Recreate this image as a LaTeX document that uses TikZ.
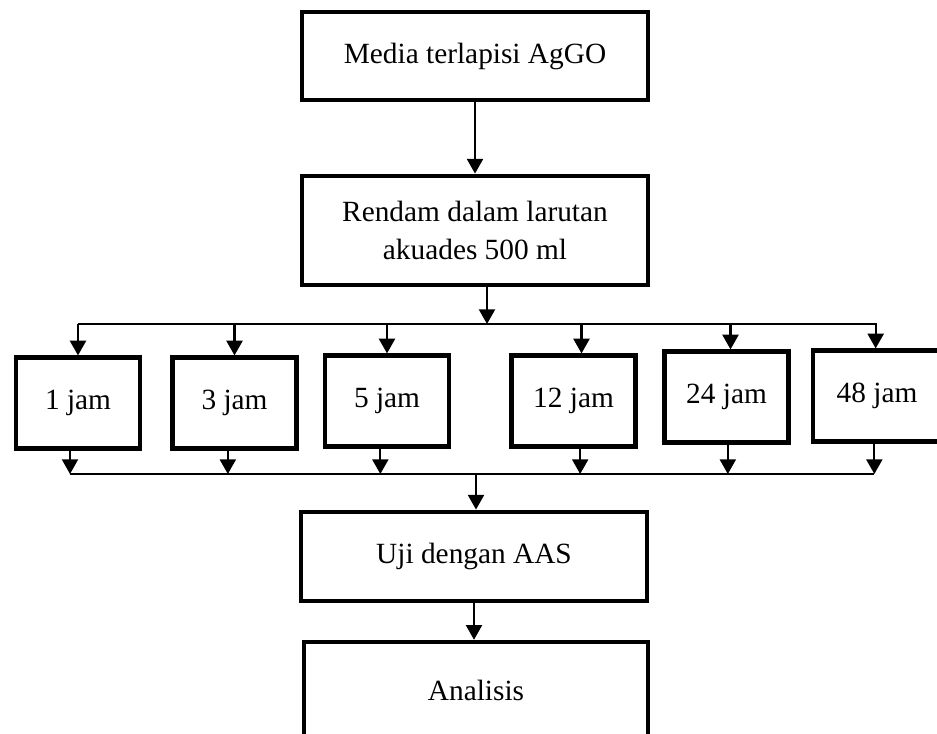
\documentclass[tikz,border=0pt]{standalone}
\usepackage{fontspec}
\setmainfont{Liberation Serif}
\usetikzlibrary{arrows.meta, positioning}

\begin{document}
\begin{tikzpicture}[x=0.75pt,y=-0.75pt,
    box/.style={draw,line width=3.4pt,inner sep=0pt,align=center,font=\fontsize{22}{29}\selectfont},
    wide/.style={box,minimum width=259.5pt},
    jam/.style={box,minimum width=93pt,minimum height=68pt},
    arr/.style={line width=1.6pt,-{Triangle[length=11pt,width=12pt]}},
    bar/.style={line width=1.6pt}]
\useasboundingbox (0,0) rectangle (937,733);
\clip (0,0) rectangle (937,733);
\node[wide,minimum height=66pt] (media) at (475,56) {Media terlapisi AgGO};
\node[wide,minimum height=82pt] (rendam) at (475,230.5) {Rendam dalam larutan\\akuades 500 ml};
\node[jam] (b1) at (78,403) {1 jam};
\node[jam] (b3) at (234.5,403) {3 jam};
\node[jam] (b5) at (387,401) {5 jam};
\node[jam] (b12) at (573.5,401) {12 jam};
\node[jam] (b24) at (726.5,397) {24 jam};
\node[jam,minimum width=96pt] (b48) at (877,396) {48 jam};
\node[wide,minimum height=67pt] (uji) at (474,556.5) {Uji dengan AAS};
\node[wide,minimum width=258pt,minimum height=72pt] (analisis) at (476,690) {Analisis};
\draw[arr] (media) -- (rendam);
% split to the six times
\coordinate (split) at ([xshift=9pt]rendam.south |- 0,324);
\draw[arr] ([xshift=9pt]rendam.south) -- (split);
\draw[bar] (b1.north |- split) -- (b48.north |- split);
\foreach \b/\dx in {b1/0,b3/0,b5/0,b12/6,b24/3,b48/-1} {
    \draw[arr] ([xshift=\dx pt]\b.north |- split) -- ([xshift=\dx pt]\b.north);
}
% merge into the test
\coordinate (merge) at (476,474);
\foreach \b/\dx in {b1/-6,b3/-5,b5/-5,b12/5,b24/1,b48/-2} {
    \draw[arr] ([xshift=\dx pt]\b.south) -- ([xshift=\dx pt]\b.south |- merge);
}
\draw[bar] ([xshift=-6pt]b1.south |- merge) -- ([xshift=-2pt]b48.south |- merge);
\draw[arr] (merge) -- (merge |- uji.north);
\draw[arr] (uji.south) -- (uji.south |- analisis.north);
\end{tikzpicture}
\end{document}
